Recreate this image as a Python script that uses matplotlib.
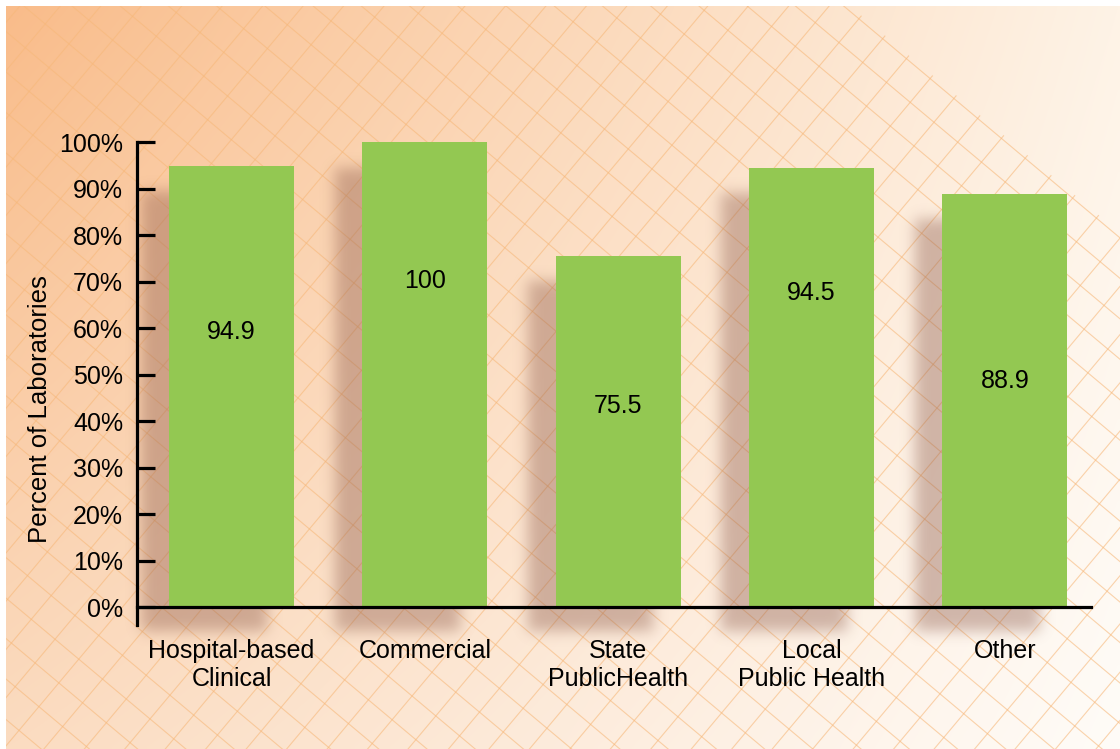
import numpy as np
import matplotlib.pyplot as plt
from matplotlib.patches import Polygon

# data
categories = ['Hospital-based\nClinical', 'Commercial', 'State\nPublicHealth',
              'Local\nPublic Health', 'Other']
values = [94.9, 100, 75.5, 94.5, 88.9]
label_y = [59.1, 70.1, 43.2, 67.5, 48.6]   # where the value text sits
yticks = [0, 10, 20, 30, 40, 50, 60, 70, 80, 90, 100]

W, H = 1120, 749
plt.rcParams['font.family'] = ['Liberation Sans', 'DejaVu Sans']

fig = plt.figure(figsize=(W / 100, H / 100), dpi=100, facecolor='white')

# background axes in pixel coordinates
bg = fig.add_axes([0, 0, 1, 1])
bg.set_xlim(0, W)
bg.set_ylim(H, 0)
bg.axis('off')

# soft orange gradient (bilinear between four corners)
xx, yy = np.meshgrid(np.linspace(0, 1, 280), np.linspace(0, 1, 188))
tl = np.array([249, 188, 138]) / 255
tr = np.array([254, 243, 230]) / 255
bl = np.array([251, 220, 193]) / 255
br = np.array([255, 252, 248]) / 255
grad = ((1 - xx)[..., None] * (1 - yy)[..., None] * tl + xx[..., None] * (1 - yy)[..., None] * tr
        + (1 - xx)[..., None] * yy[..., None] * bl + xx[..., None] * yy[..., None] * br)
bg.imshow(grad, extent=(6, W, H, 6), aspect='auto', interpolation='bilinear', zorder=0)

# diagonal lattice
clip = Polygon([(6, 6), (850, 6), (W, 233), (W, H), (6, H)], closed=True,
               transform=bg.transData, facecolor='none', edgecolor='none')
bg.add_patch(clip)
a1 = np.deg2rad(40)
a2 = np.deg2rad(-50)
step = 31
for ang in (a1, a2):
    d = np.array([np.cos(ang), np.sin(ang)])
    n = np.array([-d[1], d[0]])
    for k in np.arange(-60, 60):
        p = n * k * step + np.array([560, 375])
        pts = np.array([p - d * 2000, p + d * 2000])
        ln, = bg.plot(pts[:, 0], pts[:, 1], color=(0.97, 0.72, 0.48), lw=0.8, alpha=0.6, zorder=1)
        ln.set_clip_path(clip)

# main axes
ax = fig.add_axes([137 / W, (H - 625) / H, (1091 - 137) / W, (625 - 142) / H])
ax.set_facecolor('none')
x = np.arange(len(values))
bars = ax.bar(x, values, width=0.647, color='#93C852', zorder=3)
ax.set_xlim(-0.489, 4.446)
ax.set_ylim(-3.87, 100)
ax.axhline(0, color='black', lw=2.3, zorder=4, clip_on=False)

for xi, v, ly in zip(x, values, label_y):
    ax.text(xi, ly, f'{v:g}', ha='center', va='center', fontsize=18, zorder=5)

ax.set_yticks(yticks)
ax.set_yticklabels([f'{t}%' for t in yticks], fontsize=18)
ax.set_xticks(x)
ax.set_xticklabels(categories, fontsize=18, linespacing=1.2)
ax.tick_params(axis='y', direction='in', length=13, width=2.3, pad=10)
ax.tick_params(axis='x', length=0, pad=10)
for s in ['top', 'right', 'bottom']:
    ax.spines[s].set_visible(False)
ax.spines['left'].set_linewidth(2.3)
ax.set_ylabel('Percent of Laboratories', fontsize=18.5, va='center')
ax.yaxis.set_label_coords(-0.102, 0.447)

# blurred drop shadows behind the bars, built from the bar geometry
mask = np.zeros((H, W))
for b in bars:
    (px0, py0) = ax.transData.transform((b.get_x(), 0))
    (px1, py1) = ax.transData.transform((b.get_x() + b.get_width(), b.get_height()))
    c0, c1 = int(px0) - 27, int(px1) - 27
    r0, r1 = int(H - py1) + 26, int(H - py0) + 24
    mask[max(r0, 0):min(r1, H), max(c0, 0):min(c1, W)] = 1.0
g = np.exp(-0.5 * (np.arange(-24, 25) / 7.0) ** 2)
g /= g.sum()
mask = np.apply_along_axis(lambda r: np.convolve(r, g, mode='same'), 1, mask)
mask = np.apply_along_axis(lambda c: np.convolve(c, g, mode='same'), 0, mask)
shadow = np.zeros((H, W, 4))
shadow[..., 0] = 140 / 255
shadow[..., 1] = 88 / 255
shadow[..., 2] = 72 / 255
shadow[..., 3] = mask * 0.4
bg.imshow(shadow, extent=(0, W, H, 0), aspect='auto', interpolation='bilinear', zorder=2)

fig.savefig('out.png', dpi=100, facecolor='white')
